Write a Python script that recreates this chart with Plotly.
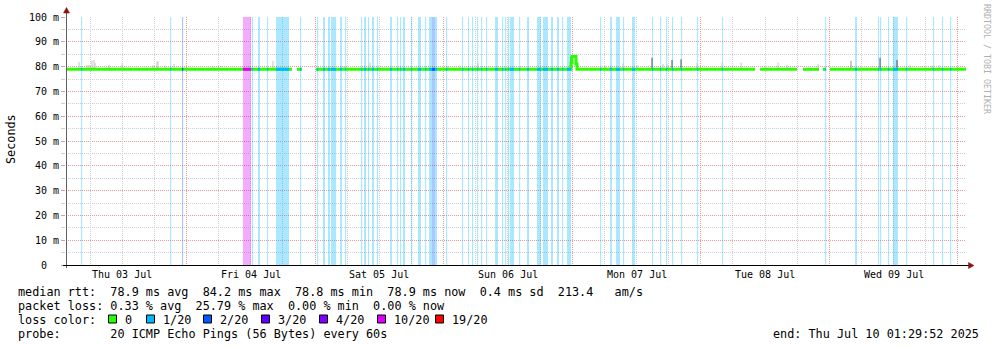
import plotly.graph_objects as go
from datetime import datetime, timedelta

# ---------------------------------------------------------------- data
t_begin = "2025-07-03 01:29:52"
t_end = "2025-07-10 01:29:52"

loss_names = ["0", "1/20", "2/20", "3/20", "4/20", "10/20", "19/20"]
loss_counts = [0, 1, 2, 3, 4, 10, 19]
loss_colors = ["#26ff00", "#00b8ff", "#0059ff", "#5e00ff", "#7e00ff", "#dd00ff", "#ff0000"]

# packet-loss events: start time, duration in minutes, lost pings (of 20)
loss_start = [
    "2025-07-03 04:18", "2025-07-03 20:55", "2025-07-03 23:09",
    "2025-07-04 10:32", "2025-07-04 12:13", "2025-07-04 13:20", "2025-07-04 15:01",
    "2025-07-04 16:42", "2025-07-04 21:11",
    "2025-07-05 00:21", "2025-07-05 01:28", "2025-07-05 02:24", "2025-07-05 02:58",
    "2025-07-05 04:39", "2025-07-05 05:35", "2025-07-05 08:34", "2025-07-05 09:08",
    "2025-07-05 09:52", "2025-07-05 10:37", "2025-07-05 11:33", "2025-07-05 13:59",
    "2025-07-05 15:17", "2025-07-05 15:51", "2025-07-05 16:24", "2025-07-05 17:54",
    "2025-07-05 19:12", "2025-07-05 20:31", "2025-07-05 21:16", "2025-07-05 21:49",
    "2025-07-05 22:23",
    "2025-07-06 00:26", "2025-07-06 03:25", "2025-07-06 04:32", "2025-07-06 05:17",
    "2025-07-06 06:13", "2025-07-06 06:58", "2025-07-06 07:54", "2025-07-06 09:35",
    "2025-07-06 10:53", "2025-07-06 11:27", "2025-07-06 12:00", "2025-07-06 12:23",
    "2025-07-06 14:04", "2025-07-06 15:33", "2025-07-06 17:25", "2025-07-06 18:32",
    "2025-07-06 20:02", "2025-07-06 21:09", "2025-07-06 22:05", "2025-07-06 23:01",
    "2025-07-07 05:11", "2025-07-07 07:03", "2025-07-07 08:10", "2025-07-07 09:28",
    "2025-07-07 11:09", "2025-07-07 14:53", "2025-07-07 16:23", "2025-07-07 17:30",
    "2025-07-07 18:37", "2025-07-07 20:18", "2025-07-07 23:17",
    "2025-07-08 03:57", "2025-07-08 23:11",
    "2025-07-09 04:47", "2025-07-09 09:04", "2025-07-09 09:27", "2025-07-09 10:56",
    "2025-07-09 11:52", "2025-07-09 14:18", "2025-07-09 19:20", "2025-07-09 21:01",
    "2025-07-09 22:31",
]
loss_minutes = [
    13, 13, 13,
    90, 13, 23, 13,
    146, 13,
    13, 23, 23, 56,
    22, 13, 13, 22,
    13, 23, 13, 22,
    13, 13, 23, 13,
    34, 13, 33, 34,
    22,
    13, 13, 13, 13,
    13, 13, 13, 33,
    13, 13, 13, 45,
    13, 23, 45, 56,
    22, 22, 13, 45,
    13, 22, 45, 13,
    34, 13, 13, 13,
    13, 13, 13,
    13, 13,
    22, 13, 13, 13,
    56, 13, 13, 13,
    13,
]
loss_lost = [
    1, 1, 2,
    10, 1, 1, 1,
    1, 1,
    1, 1, 1, 1,
    1, 1, 1, 1,
    1, 1, 1, 1,
    1, 1, 1, 1,
    1, 1, 1, 2,
    1,
    1, 1, 1, 1,
    1, 1, 1, 1,
    1, 1, 1, 1,
    1, 1, 1, 1,
    1, 1, 1, 1,
    1, 1, 1, 1,
    1, 1, 1, 1,
    1, 1, 1,
    1, 1,
    1, 1, 1, 1,
    1, 1, 1, 1,
    1,
]

# median round-trip time (ms); None marks missing samples
median_time = [
    "2025-07-03 01:29:52", "2025-07-04 19:41", None,
    "2025-07-04 20:37", "2025-07-04 21:33", None,
    "2025-07-05 00:10", "2025-07-06 23:46", "2025-07-06 23:57", "2025-07-07 00:42",
    "2025-07-07 00:53", "2025-07-08 10:07", None,
    "2025-07-08 11:03", "2025-07-08 17:57", None,
    "2025-07-08 19:04", "2025-07-08 22:04", None,
    "2025-07-08 22:48", "2025-07-08 23:22", None,
    "2025-07-09 00:07", "2025-07-10 01:29:52",
]
median_ms = [
    78.9, 78.9, None,
    78.9, 78.9, None,
    78.9, 81.6, 84.1, 81.0,
    78.9, 78.9, None,
    78.9, 78.9, None,
    78.9, 78.9, None,
    78.9, 78.9, None,
    78.9, 78.9,
]
median_rtt = 78.9

# ping spread ("smoke") above the median: time, highest ping (ms), density shade
smoke_time = [
    "2025-07-03 03:56", "2025-07-03 05:25", "2025-07-03 05:48", "2025-07-03 06:21",
    "2025-07-03 06:44", "2025-07-03 06:55", "2025-07-03 09:32", "2025-07-03 11:57",
    "2025-07-03 17:44", "2025-07-03 18:29", "2025-07-03 18:40", "2025-07-03 19:59",
    "2025-07-03 21:40", "2025-07-04 04:56", "2025-07-04 16:08", "2025-07-05 05:24",
    "2025-07-05 10:15", "2025-07-06 00:48", "2025-07-06 03:03", "2025-07-06 06:24",
    "2025-07-06 23:46", "2025-07-07 00:53", "2025-07-07 06:07", "2025-07-07 09:28",
    "2025-07-07 12:05", "2025-07-07 14:53", "2025-07-07 16:56", "2025-07-07 17:41",
    "2025-07-07 18:37", "2025-07-07 20:18", "2025-07-07 23:17", "2025-07-08 03:57",
    "2025-07-08 07:30", "2025-07-08 14:24", "2025-07-08 16:05", "2025-07-08 21:52",
    "2025-07-09 04:02", "2025-07-09 09:27", "2025-07-09 12:37", "2025-07-09 15:03",
    "2025-07-09 19:09", "2025-07-09 20:28",
]
smoke_max = [
    81.9, 80.6, 80.6, 82.5,
    82.7, 81.5, 80.6, 81.3,
    80.6, 82.3, 82.0, 80.4,
    81.0, 80.2, 82.3, 80.2,
    81.7, 80.2, 80.4, 81.7,
    84.0, 81.0, 80.2, 81.2,
    80.5, 83.6, 81.0, 81.0,
    82.7, 83.0, 81.5, 81.7,
    81.7, 81.7, 80.5, 81.0,
    82.4, 83.6, 82.7, 80.5,
    80.5, 80.5,
]
smoke_dense = [
    0, 0, 0, 0,
    0, 0, 0, 0,
    0, 0, 0, 0,
    0, 0, 0, 0,
    0, 0, 0, 0,
    2, 2, 0, 0,
    0, 2, 0, 0,
    2, 2, 0, 0,
    0, 0, 0, 0,
    1, 2, 2, 0,
    0, 0,
]

day_labels = ["Thu 03 Jul", "Fri 04 Jul", "Sat 05 Jul", "Sun 06 Jul",
              "Mon 07 Jul", "Tue 08 Jul", "Wed 09 Jul"]
day_dates = ["2025-07-03", "2025-07-04", "2025-07-05", "2025-07-06",
             "2025-07-07", "2025-07-08", "2025-07-09"]
y_ticks = [0, 10, 20, 30, 40, 50, 60, 70, 80, 90, 100]
y_tick_text = ["0\u00a0\u00a0"] + [f"{v} m" for v in y_ticks[1:]]

rtt_stats = ["78.9 ms avg", "84.2 ms max", "78.8 ms min", "78.9 ms now", "0.4 ms sd", "213.4   am/s"]
loss_stats = ["0.33 % avg", "25.79 % max", "0.00 % min", "0.00 % now"]
probe_text = "20 ICMP Echo Pings (56 Bytes) every 60s"
end_text = "end: Thu Jul 10 01:29:52 2025"

# ---------------------------------------------------------------- layout geometry
W, H = 997, 347
PL, PR, PT, PB = 66, 966, 17, 265
MONO = "DejaVu Sans Mono"
TXT = 11.8


def px(X):
    return (X - PL) / (PR - PL)


def py(Y):
    return (PB - Y) / (PB - PT)


def ts(s):
    return None if s is None else datetime.fromisoformat(s)


def rgba(hex_color, a):
    h = hex_color.lstrip("#")
    return f"rgba({int(h[0:2], 16)},{int(h[2:4], 16)},{int(h[4:6], 16)},{a})"


def nb(s):
    # keep runs of spaces in SVG text
    return s.replace(" ", "\u00a0")


fig = go.Figure()

# loss bars, one trace per loss level
for lvl, col in zip(loss_counts, loss_colors):
    idx = [i for i, c in enumerate(loss_lost) if c == lvl]
    if not idx:
        continue
    starts = [ts(loss_start[i]) for i in idx]
    mins = [loss_minutes[i] for i in idx]
    fig.add_trace(go.Bar(
        x=[s + timedelta(minutes=m / 2) for s, m in zip(starts, mins)],
        y=[100] * len(idx), base=0,
        width=[m * 60000 for m in mins],
        marker=dict(color=rgba(col, 0.33), line=dict(width=0)),
        hoverinfo="skip",
    ))

# smoke
smoke_shades = ["#c4c4c4", "#8f8f8f", "#505050"]
for shade_i, shade in enumerate(smoke_shades):
    idx = [i for i, d in enumerate(smoke_dense) if d == shade_i]
    fig.add_trace(go.Bar(
        x=[ts(smoke_time[i]) for i in idx],
        y=[smoke_max[i] - median_rtt for i in idx], base=median_rtt,
        width=[11 * 60000] * len(idx),
        marker=dict(color=shade, line=dict(width=0)),
        hoverinfo="skip",
    ))

# median rtt line
fig.add_trace(go.Scatter(
    x=[ts(t) for t in median_time], y=median_ms,
    mode="lines", line=dict(color=loss_colors[0], width=3, shape="hv"),
    connectgaps=False, hoverinfo="skip",
))

# median coloured by loss level where pings were lost
for lvl, col in zip(loss_counts, loss_colors):
    idx = [i for i, c in enumerate(loss_lost) if c == lvl]
    if not idx or lvl == 0:
        continue
    xs, ys = [], []
    for i in idx:
        s = ts(loss_start[i])
        xs += [s, s + timedelta(minutes=loss_minutes[i]), None]
        ys += [median_rtt, median_rtt, None]
    fig.add_trace(go.Scatter(x=xs, y=ys, mode="lines",
                             line=dict(color=col, width=3),
                             connectgaps=False, hoverinfo="skip"))

DOT = "1px,1px"
MAJ = "#e39c9c"
MIN = "#cfcfcf"

fig.update_layout(
    width=W, height=H, autosize=False,
    margin=dict(l=PL, r=W - PR, t=PT, b=H - PB, pad=0),
    paper_bgcolor="white", plot_bgcolor="white",
    showlegend=False, barmode="overlay",
    font=dict(family=MONO, size=10, color="#000"),
    xaxis=dict(
        type="date", range=[t_begin, t_end],
        tickmode="linear", tick0="2025-07-04 00:00", dtick=86400000,
        showgrid=True, gridcolor=MAJ, griddash=DOT, gridwidth=1,
        showticklabels=False, ticks="", zeroline=False, showline=False,
        minor=dict(dtick=21600000, tick0="2025-07-04 00:00", showgrid=True,
                   gridcolor=MIN, griddash=DOT, gridwidth=1),
        fixedrange=True,
    ),
    yaxis=dict(
        range=[0, 100], tickmode="array", tickvals=y_ticks, ticktext=y_tick_text,
        showgrid=True, gridcolor=MAJ, griddash=DOT, gridwidth=1,
        ticks="outside", ticklen=4, tickcolor=MAJ, tickwidth=1,
        tickfont=dict(family=MONO, size=10, color="#000"),
        zeroline=False, showline=False,
        minor=dict(dtick=5, tick0=0, showgrid=True, gridcolor=MIN, griddash=DOT,
                   gridwidth=1, ticks="outside", ticklen=4, tickcolor=MIN),
        fixedrange=True,
    ),
)

shapes = []
# axes with arrow heads
shapes.append(dict(type="line", xref="paper", yref="paper",
                   x0=px(66.5), x1=px(66.5), y0=py(268), y1=py(12),
                   line=dict(color="#606060", width=1)))
shapes.append(dict(type="line", xref="paper", yref="paper",
                   x0=px(63), x1=px(969), y0=py(265.5), y1=py(265.5),
                   line=dict(color="#000000", width=1)))
shapes.append(dict(type="path", xref="paper", yref="paper",
                   path=f"M {px(66.5)},{py(7.5)} L {px(63.5)},{py(13)} L {px(69.5)},{py(13)} Z",
                   fillcolor="#8b1010", line=dict(color="#8b1010", width=0.5)))
shapes.append(dict(type="path", xref="paper", yref="paper",
                   path=f"M {px(974)},{py(265.5)} L {px(968.5)},{py(262.5)} L {px(968.5)},{py(268.5)} Z",
                   fillcolor="#8b1010", line=dict(color="#8b1010", width=0.5)))

annotations = []


def text_at(X, Y, s, anchor="left", size=TXT, color="#000", angle=0):
    annotations.append(dict(xref="paper", yref="paper", x=px(X), y=py(Y), text=nb(s),
                            showarrow=False, xanchor=anchor, yanchor="middle",
                            textangle=angle,
                            font=dict(family=MONO, size=size, color=color)))


# day labels centred on noon
for lab, d in zip(day_labels, day_dates):
    annotations.append(dict(xref="x", yref="paper", x=ts(d + " 12:00"), y=py(274.5),
                            text=nb(lab), showarrow=False, xanchor="center", yanchor="middle",
                            font=dict(family=MONO, size=10, color="#000")))

text_at(11, 139, "Seconds", anchor="center", angle=-90)
text_at(987, 59, "RRDTOOL / TOBI OETIKER", anchor="center", size=8.3, color="#b0b0b0", angle=90)

# statistics block
text_at(16, 291.5, "median rtt:  " + "  ".join(rtt_stats))
text_at(16, 305.5, "packet loss: " + "  ".join(loss_stats))
text_at(16, 319.5, "loss color:")
box_x = [108, 146, 203, 261, 319, 377, 435]
for bx, name, col in zip(box_x, loss_names, loss_colors):
    shapes.append(dict(type="rect", xref="paper", yref="paper",
                       x0=px(bx + 0.5), x1=px(bx + 8.5), y0=py(315), y1=py(323),
                       fillcolor=col, line=dict(color="#000", width=1)))
    text_at(bx + 15, 319.5, name)
text_at(16, 333.5, "probe:       " + probe_text)
text_at(981, 333.5, end_text, anchor="right")

fig.update_layout(shapes=shapes, annotations=annotations)

fig.write_html("out.html", config={"displayModeBar": False, "staticPlot": True})
